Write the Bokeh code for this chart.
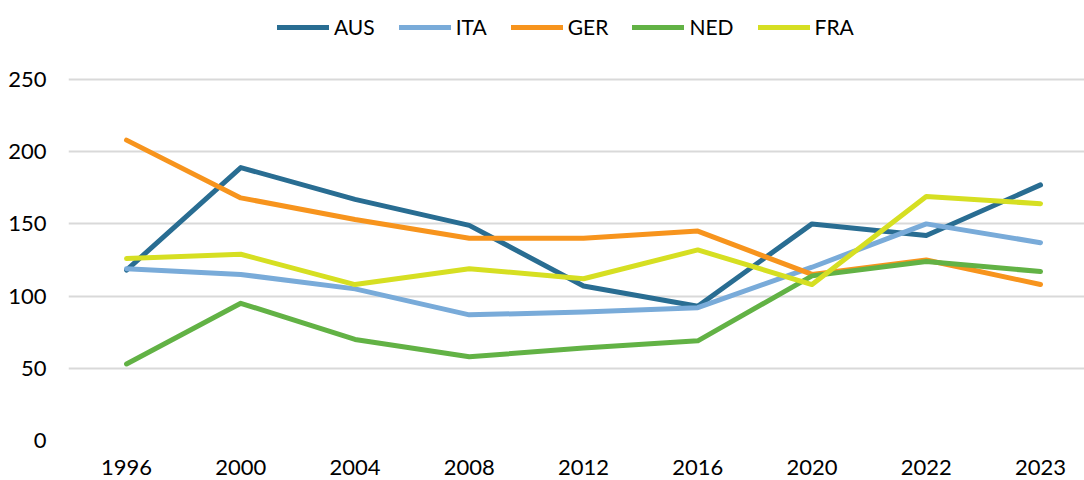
from bokeh.plotting import figure
from bokeh.models import Range1d, FixedTicker, Legend, LegendItem
from bokeh.embed import file_html
from bokeh.resources import INLINE

years = ["1996", "2000", "2004", "2008", "2012", "2016", "2020", "2022", "2023"]
aus = [118, 189, 167, 149, 107, 93, 150, 142, 177]
ita = [119, 115, 105, 87, 89, 92, 120, 150, 137]
ger = [208, 168, 153, 140, 140, 145, 115, 125, 108]
ned = [53, 95, 70, 58, 64, 69, 114, 124, 117]
fra = [126, 129, 108, 119, 112, 132, 108, 169, 164]

series = [
    ("AUS", aus, "#296d92"),
    ("ITA", ita, "#79abd9"),
    ("GER", ger, "#f7941d"),
    ("NED", ned, "#62b245"),
    ("FRA", fra, "#d6df22"),
]

FONT = "Lato"
xs = list(range(len(years)))

p = figure(width=1084, height=480, output_backend="svg", toolbar_location=None,
           x_range=Range1d(-0.508, 8.385), y_range=Range1d(0, 304.7),
           min_border_left=68, min_border_right=0, min_border_top=0, min_border_bottom=40)
p.outline_line_color = None
p.background_fill_color = "white"
p.border_fill_color = "white"

items = []
for name, vals, color in series:
    r = p.line(xs, vals, line_color=color, line_width=5, line_cap="round", line_join="round")
    items.append(LegendItem(label=name, renderers=[r]))

p.xaxis.ticker = FixedTicker(ticks=xs)
p.xaxis.major_label_overrides = {i: y for i, y in enumerate(years)}
p.yaxis.ticker = FixedTicker(ticks=[0, 50, 100, 150, 200, 250])

for ax in (p.xaxis[0], p.yaxis[0]):
    ax.axis_line_color = None
    ax.major_tick_line_color = None
    ax.minor_tick_line_color = None
    ax.major_label_text_font = FONT
    ax.major_label_text_font_size = "22px"
    ax.major_label_text_color = "#000000"

p.xaxis.major_label_standoff = 13
p.yaxis.major_label_standoff = 16

p.xgrid.grid_line_color = None
p.ygrid.grid_line_color = "#d9d9d9"
p.ygrid.grid_line_width = 2

legend = Legend(items=items, orientation="horizontal", location=(209, 401),
                glyph_width=52, glyph_height=20, label_standoff=5, spacing=24,
                padding=0, margin=0, border_line_color=None, background_fill_alpha=0,
                label_text_font=FONT, label_text_font_size="21px", label_text_color="#000000")
p.add_layout(legend, "center")

open("out.html", "w").write(file_html(p, INLINE))
